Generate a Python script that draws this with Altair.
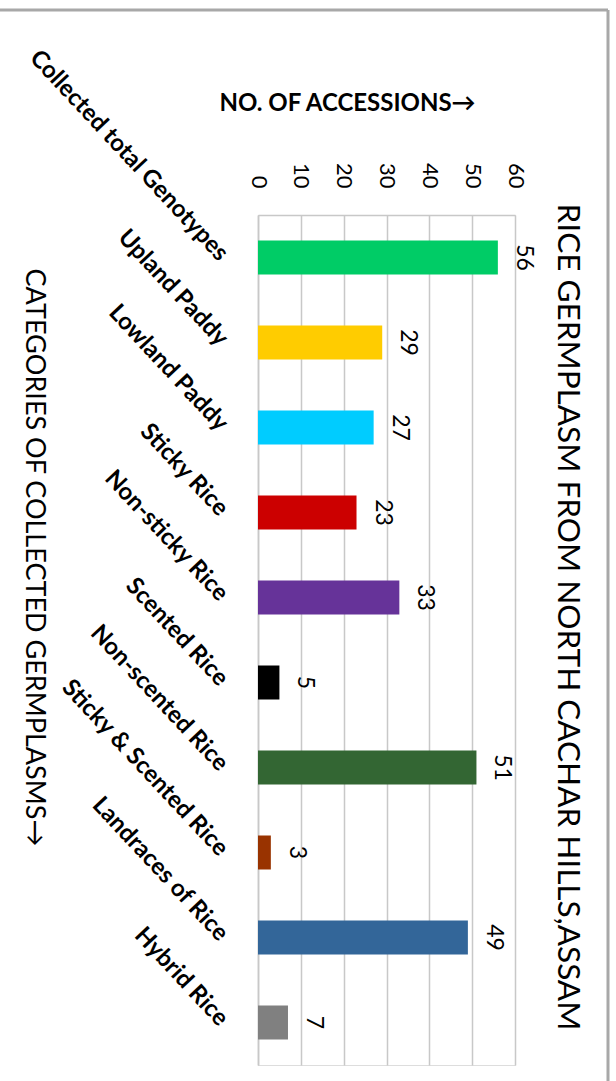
import altair as alt
import pandas as pd

categories = ["Collected total Genotypes", "Upland Paddy", "Lowland Paddy", "Sticky Rice",
              "Non-sticky Rice", "Scented Rice", "Non-scented Rice", "Sticky & Scented Rice",
              "Landraces of Rice", "Hybrid Rice"]
values = [56, 29, 27, 23, 33, 5, 51, 3, 49, 7]
colors = ["#00cc66", "#ffcc00", "#00ccff", "#cc0000", "#663399", "#000000",
          "#336633", "#993300", "#336699", "#808080"]
tick_values = [0, 10, 20, 30, 40, 50, 60]
chart_title = "RICE GERMPLASM FROM NORTH CACHAR HILLS,ASSAM"

df = pd.DataFrame({"category": categories, "value": values})

FONT = "Lato"
GRID = "#c8c8c8"

base = alt.Chart(df)

ycat = alt.Y(
    "category:N", sort=categories,
    scale=alt.Scale(paddingInner=0.6, paddingOuter=0.3),
    axis=alt.Axis(
        title="CATEGORIES OF COLLECTED GERMPLASMS→",
        titleAngle=90, titleAlign="center", titleBaseline="middle",
        titleX=-225, titleY=342, titleFont=FONT, titleFontSize=27,
        titleFontWeight="normal", titleColor="#000000",
        labelAngle=47, labelAlign="right", labelBaseline="middle",
        labelPadding=35, labelFont=FONT, labelFontSize=24, labelLimit=0,
        labelFontWeight="bold", labelColor="#000000",
        ticks=False, domain=True, domainColor=GRID, domainWidth=1.5,
        grid=False,
    ),
)

xval = alt.X(
    "value:Q",
    scale=alt.Scale(domain=[0, 60], nice=False),
    axis=alt.Axis(
        orient="top", values=tick_values,
        title="NO. OF ACCESSIONS→", titleX=89, titleY=-112,
        titleAlign="center", titleBaseline="middle", titleAngle=0,
        titleFont=FONT, titleFontSize=24, titleFontWeight="bold", titleColor="#000000",
        labelAngle=90, labelAlign="right", labelBaseline="middle",
        labelPadding=27, labelFont=FONT, labelFontSize=22, labelColor="#000000",
        ticks=False, domain=True, domainColor=GRID, domainWidth=1.5,
        grid=True, gridColor=GRID, gridWidth=1.5,
    ),
)

bars = base.mark_bar().encode(
    y=ycat,
    x=xval,
    color=alt.Color("category:N", scale=alt.Scale(domain=categories, range=colors), legend=None),
)

labels = base.mark_text(
    angle=90, align="center", baseline="bottom", dy=-14,
    font=FONT, fontSize=23, color="#000000",
).encode(
    y=alt.Y("category:N", sort=categories),
    x=alt.X("value:Q"),
    text=alt.Text("value:Q"),
)

frame_df = pd.DataFrame({"a": [0]})
top_border = alt.Chart(frame_df).mark_rule(color="#a8a8a8", strokeWidth=3).encode(
    x=alt.value(-258), x2=alt.value(350), y=alt.value(-205)
)
right_border = alt.Chart(frame_df).mark_rule(color="#a8a8a8", strokeWidth=3).encode(
    x=alt.value(350), y=alt.value(-205), y2=alt.value(866)
)
title_df = pd.DataFrame({"t": [chart_title]})
title_text = alt.Chart(title_df).mark_text(
    angle=90, align="center", baseline="middle", font=FONT, fontSize=31.5, color="#000000",
).encode(
    x=alt.value(309), y=alt.value(402), text="t:N"
)

chart = alt.layer(bars, labels, top_border, right_border, title_text).properties(
    width=257, height=850,
    padding={"left": 258, "top": 215, "right": 101, "bottom": 16},
    autosize=alt.AutoSizeParams(type="none"),
).configure_view(stroke=None).configure(background="#ffffff")

chart.save("out.html", embed_options={"renderer": "svg", "actions": False})
